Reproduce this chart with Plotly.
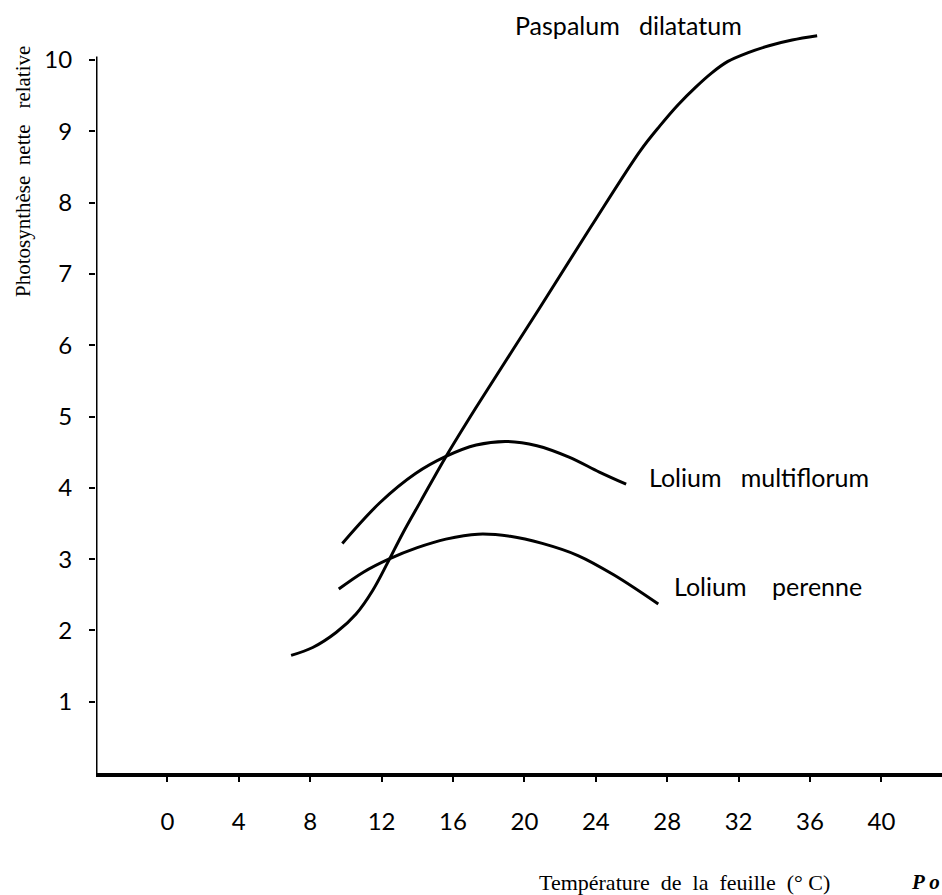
import plotly.graph_objects as go

# ---- data ----
pasp_x = [6.93, 8.14, 9.45, 10.57, 11.5, 12.34, 13.18, 14.21, 15.61, 17.3, 20.8, 23.7, 26.5,
          27.6, 28.6, 29.6, 30.5, 31.4, 32.5, 33.7, 35.0, 36.4]
pasp_y = [1.65, 1.76, 1.97, 2.23, 2.56, 2.95, 3.36, 3.82, 4.44, 5.13, 6.5, 7.65, 8.73,
          9.08, 9.37, 9.62, 9.82, 9.98, 10.1, 10.2, 10.28, 10.34]

multi_x = [9.8, 11.9, 13.9, 15.6, 17.3, 19.0, 20.7, 22.5, 24.2, 25.7]
multi_y = [3.22, 3.79, 4.2, 4.44, 4.6, 4.65, 4.59, 4.43, 4.22, 4.05]

peren_x = [9.6, 11.0, 12.4, 14.0, 15.6, 17.4, 19.2, 21.0, 23.0, 25.0, 27.5]
peren_y = [2.58, 2.82, 3.0, 3.16, 3.28, 3.35, 3.32, 3.22, 3.05, 2.78, 2.37]

x_ticks = [0, 4, 8, 12, 16, 20, 24, 28, 32, 36, 40]
y_ticks = [1, 2, 3, 4, 5, 6, 7, 8, 9, 10]

series_names = ["Paspalum   dilatatum", "Lolium   multiflorum", "Lolium    perenne"]

x_title = "Température  de  la  feuille  (° C)"
y_title = "Photosynthèse  nette   relative"

# ---- geometry ----
W, H = 942, 895
L, R, T, B = 96, 0, 0, 122
px_per_x = 17.85
px_per_y = 71.3
x0 = -4
x1 = x0 + (W - L - R) / px_per_x
y1 = (H - T - B) / px_per_y


def to_paper(px, py):
    return (px - L) / (W - L - R), 1 - (py - T) / (H - T - B)


fig = go.Figure()
line_style = dict(color="black", width=3, shape="spline", smoothing=1.0)
for xs, ys, nm in [(pasp_x, pasp_y, series_names[0]),
                   (multi_x, multi_y, series_names[1]),
                   (peren_x, peren_y, series_names[2])]:
    fig.add_trace(go.Scatter(x=xs, y=ys, mode="lines", name=nm,
                             line=line_style, showlegend=False, hoverinfo="skip"))

label_font = dict(family="Lato", size=25, color="black")

# curve labels
for name, (px, py) in zip(series_names, [(513, 25), (647, 477), (672, 586)]):
    xp, yp = to_paper(px, py)
    fig.add_annotation(x=xp, y=yp, xref="paper", yref="paper", text=name,
                       showarrow=False, font=label_font, xanchor="left", yanchor="middle")

# axis titles as annotations
xp, yp = to_paper(23, 172)
fig.add_annotation(x=xp, y=yp, xref="paper", yref="paper", text=y_title, textangle=-90,
                   showarrow=False, xanchor="center", yanchor="middle",
                   font=dict(family="Liberation Serif", size=21, color="black"))
xp, yp = to_paper(537, 882)
fig.add_annotation(x=xp, y=yp, xref="paper", yref="paper", text=x_title,
                   showarrow=False, xanchor="left", yanchor="middle",
                   font=dict(family="Liberation Serif", size=22, color="black"))
xp, yp = to_paper(909, 882)
fig.add_annotation(x=xp, y=yp, xref="paper", yref="paper", text="<b><i>P o</i></b>",
                   showarrow=False, xanchor="left", yanchor="middle",
                   font=dict(family="Liberation Serif", size=21, color="black"))

# y axis line drawn only up to 10
fig.add_shape(type="line", x0=x0, x1=x0, y0=0, y1=10.05, xref="x", yref="y",
              line=dict(color="black", width=3))

fig.update_layout(
    width=W, height=H,
    margin=dict(l=L, r=R, t=T, b=B, pad=0),
    paper_bgcolor="white", plot_bgcolor="white",
    xaxis=dict(range=[x0, x1], tickvals=x_ticks, ticktext=[str(v) for v in x_ticks],
               showgrid=False, zeroline=False, showline=True, linecolor="black", linewidth=4,
               ticks="outside", ticklen=5, tickwidth=2, tickcolor="black",
               ticklabelstandoff=19, tickfont=dict(family="Lato", size=24, color="black")),
    yaxis=dict(range=[0, y1], tickvals=y_ticks, ticktext=[str(v) for v in y_ticks],
               showgrid=False, zeroline=False, showline=False,
               ticks="outside", ticklen=6, tickwidth=2, tickcolor="black",
               ticklabelstandoff=12, tickfont=dict(family="Lato", size=24, color="black")),
)

fig.write_html("out.html")
